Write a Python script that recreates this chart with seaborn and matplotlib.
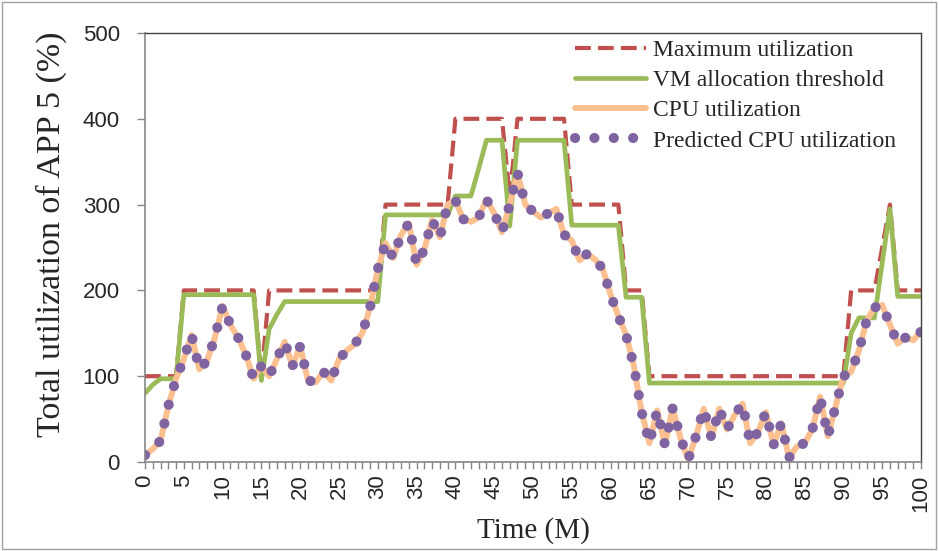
import pandas as pd
import seaborn as sns
import matplotlib.pyplot as plt
from matplotlib.patches import Rectangle

# Time axis (minutes)
time_m = list(range(0, 101))

# Maximum utilization (step-like)
max_util = ([100] * 5 + [200] * 10 + [100] + [200] * 15 + [300] * 9 +
            [400] * 7 + [310] + [400] * 7 + [300] * 7 + [200] * 3 +
            [100] * 26 + [200] * 4 + [250, 300] + [200] * 4)

# VM allocation threshold
vm_threshold = ([80, 90, 97, 97, 97] + [195] * 10 + [95, 155, 172] + [187] * 13 +
                [288] * 9 + [310] * 3 + [342] + [375] * 3 + [275] + [375] * 7 +
                [276] * 7 + [192] * 3 + [92] * 26 + [150, 168, 168, 168, 232, 295] +
                [193] * 4)

# CPU utilization
cpu_util = [8, 15, 25, 65, 97, 120, 148, 108, 118, 145,
            182, 160, 145, 125, 97, 112, 100, 120, 140, 112,
            135, 95, 93, 105, 95, 120, 130, 137, 150, 180,
            225, 255, 238, 265, 278, 230, 248, 282, 262, 300,
            305, 283, 280, 285, 306, 290, 268, 300, 337, 300,
            292, 285, 290, 295, 265, 258, 235, 243, 236, 225,
            195, 170, 148, 112, 58, 22, 60, 20, 63, 28,
            3, 30, 62, 28, 62, 38, 55, 68, 22, 35,
            58, 20, 45, 5, 18, 22, 38, 76, 30, 65,
            100, 105, 130, 165, 180, 183, 160, 138, 145, 142,
            152]

# Predicted CPU utilization (tracks the measured values)
pred_util = [8, 15, 25, 65, 97, 120, 148, 108, 118, 145,
             182, 160, 145, 125, 97, 112, 100, 120, 140, 112,
             135, 95, 93, 105, 95, 120, 130, 137, 150, 180,
             225, 255, 238, 265, 278, 230, 248, 282, 262, 300,
             305, 283, 280, 285, 306, 290, 268, 300, 337, 300,
             292, 285, 290, 295, 265, 258, 235, 243, 236, 225,
             195, 170, 148, 112, 58, 22, 60, 20, 63, 28,
             3, 30, 62, 28, 62, 38, 55, 68, 22, 35,
             58, 20, 45, 5, 18, 22, 38, 76, 30, 65,
             100, 105, 130, 165, 180, 183, 160, 138, 145, 142,
             152]

df = pd.DataFrame({
    "Time": time_m,
    "Maximum utilization": max_util,
    "VM allocation threshold": vm_threshold,
    "CPU utilization": cpu_util,
    "Predicted CPU utilization": pred_util,
})

sns.set_theme(style="white")
serif = ["Liberation Serif", "DejaVu Serif"]
sans = ["Liberation Sans", "DejaVu Sans"]
plt.rcParams["font.family"] = sans

fig = plt.figure(figsize=(9.39, 5.51), dpi=100)
ax = fig.add_axes([145 / 939, 1 - 462 / 551, 776 / 939, 429 / 551])

sns.lineplot(ax=ax, data=df, x="Time", y="Maximum utilization", color="#C0504D",
             linewidth=3.0, linestyle=(0, (3.8, 1.7)), label="Maximum utilization")
sns.lineplot(ax=ax, data=df, x="Time", y="VM allocation threshold", color="#9BBB59",
             linewidth=3.4, label="VM allocation threshold")
sns.lineplot(ax=ax, data=df, x="Time", y="CPU utilization", color="#FAC090",
             linewidth=4.3, label="CPU utilization")
sns.lineplot(ax=ax, data=df, x="Time", y="Predicted CPU utilization", color="#8064A2",
             linewidth=7.3, linestyle=(0, (0.01, 1.9)), dash_capstyle="round",
             label="Predicted CPU utilization")

ax.set_xlim(0, 100)
ax.set_ylim(0, 500)
ax.set_yticks(range(0, 501, 100))
ax.set_xticks(range(0, 101, 5))
ax.set_xticks(range(0, 101), minor=True)
ax.tick_params(axis="x", which="both", direction="out", length=5, width=1,
               color="#868686", bottom=True, labelsize=16, labelrotation=90, pad=4)
ax.tick_params(axis="y", direction="out", length=6, width=1, color="#868686",
               left=True, labelsize=16, pad=12)

for side in ["left", "bottom"]:
    ax.spines[side].set_color("#868686")
    ax.spines[side].set_linewidth(1.2)
for side in ["top", "right"]:
    ax.spines[side].set_color("#404040")
    ax.spines[side].set_linewidth(1.0)

ax.set_xlabel("Time (M)", fontsize=21, family=serif, labelpad=4)
ax.set_ylabel("Total utilization of APP 5 (%)", fontsize=24.5, family=serif)
ax.yaxis.set_label_coords(-0.10, 0.53)

ax.legend(loc="upper left", bbox_to_anchor=(0.554, 0.985), frameon=False,
          prop={"family": serif, "size": 17}, handlelength=3.0, handletextpad=0.3,
          labelspacing=0.37, borderpad=0, borderaxespad=0)

# thin frame around the whole chart
fig.patches.append(Rectangle((0.002, 0.003), 0.995, 0.993, transform=fig.transFigure,
                             fill=False, edgecolor="#A0A0A0", linewidth=1.0))

plt.savefig("out.png", dpi=100)
